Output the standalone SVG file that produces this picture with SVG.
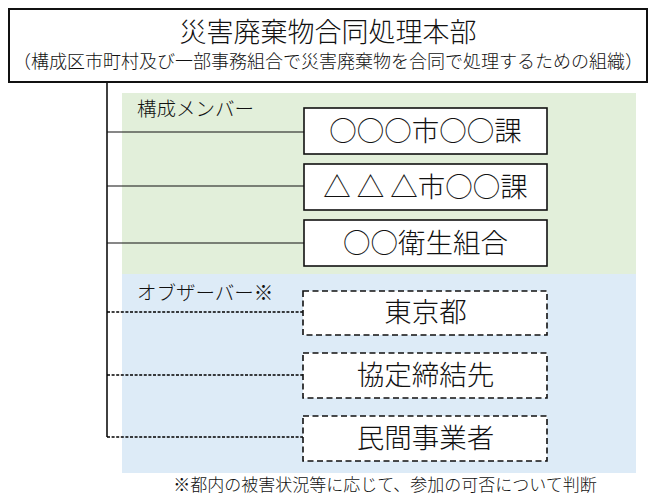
<svg xmlns="http://www.w3.org/2000/svg" width="656" height="500" viewBox="0 0 656 500">
<style>
text{font-family:"Noto Sans CJK JP","Noto Sans CJK SC",sans-serif;fill:#111;font-weight:300}
.box{fill:#fff;stroke:#111;stroke-width:1.6}
.dbox{fill:#fff;stroke:#111;stroke-width:1.6;stroke-dasharray:6 3.5}
.conn{stroke:#111;stroke-width:1.2;fill:none}
.dconn{stroke:#000;stroke-width:1.5;fill:none;stroke-dasharray:3 1.6}
.bt{font-size:27.5px;text-anchor:middle}
.lbl{font-size:19.5px}
</style>
<rect x="122" y="93" width="514" height="181" fill="#E2EFDA"/>
<rect x="122" y="274" width="514" height="199" fill="#DDEBF7"/>
<text class="lbl" x="137" y="116">構成メンバー</text>
<text class="lbl" x="137" y="300">オブザーバー※</text>
<g id="connectors">
<line class="conn" x1="107" y1="82" x2="107" y2="437" style="stroke-width:1.6"/>
<line class="conn" x1="107" y1="132" x2="304" y2="132"/>
<line class="conn" x1="107" y1="186" x2="304" y2="186"/>
<line class="conn" x1="107" y1="243" x2="304" y2="243"/>
<line class="dconn" x1="107" y1="312" x2="303" y2="312"/>
<line class="dconn" x1="107" y1="375" x2="303" y2="375"/>
<line class="dconn" x1="107" y1="437" x2="303" y2="437"/>
</g>
<g id="hq">
<rect class="box" x="9" y="9" width="638" height="73" style="stroke-width:2"/>
<text x="328" y="42" style="font-size:27px;text-anchor:middle">災害廃棄物合同処理本部</text>
<text x="328" y="68" style="font-size:18px;text-anchor:middle">（構成区市町村及び一部事務組合で災害廃棄物を合同で処理するための組織）</text>
</g>
<g id="m1">
<rect class="box" x="304" y="108" width="243" height="46"/>
<text class="bt" x="425.5" y="141">○○○市○○課</text>
</g>
<g id="m2">
<rect class="box" x="304" y="164" width="243" height="46"/>
<text class="bt" x="425.5" y="197">△ △ △市○○課</text>
</g>
<g id="m3">
<rect class="box" x="304" y="220" width="243" height="46"/>
<text class="bt" x="425.5" y="253">○○衛生組合</text>
</g>
<g id="o1">
<rect class="dbox" x="303" y="291" width="244" height="44"/>
<text class="bt" x="425.5" y="322">東京都</text>
</g>
<g id="o2">
<rect class="dbox" x="303" y="353" width="244" height="45"/>
<text class="bt" x="425.5" y="385">協定締結先</text>
</g>
<g id="o3">
<rect class="dbox" x="303" y="416" width="244" height="45"/>
<text class="bt" x="425.5" y="448">民間事業者</text>
</g>
<text x="385" y="491" style="font-size:17px;text-anchor:middle">※都内の被害状況等に応じて、参加の可否について判断</text>
</svg>
